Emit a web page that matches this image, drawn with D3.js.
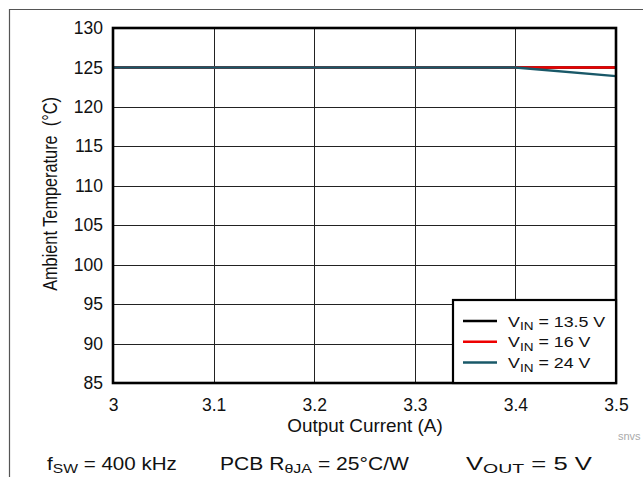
<!DOCTYPE html>
<html><head><meta charset="utf-8">
<script src="https://cdn.jsdelivr.net/npm/d3@7"></script>
<style>body{margin:0;background:#fff}svg{display:block;font-family:"Liberation Sans",Arial,sans-serif}</style>
</head><body>
<svg id="c" width="643" height="477"></svg>
<script>
const xTicks = [3, 3.1, 3.2, 3.3, 3.4, 3.5];
const yTicks = [85, 90, 95, 100, 105, 110, 115, 120, 125, 130];
const current = [3, 3.1, 3.2, 3.3, 3.4, 3.5];
const vin13_5 = [125, 125, 125, 125, 125, 125];
const vin16 = [125, 125, 125, 125, 125, 125];
const vin24 = [125, 125, 125, 125, 125, 123.9];
const seriesNames = ["13.5 V", "16 V", "24 V"];
const seriesColors = ["#000000", "#ee0000", "#195868"];

const svg = d3.select("#c");
const L = 113, R = 616, T = 28, B = 383;
const x = d3.scaleLinear().domain([3, 3.5]).range([L, R]);
const y = d3.scaleLinear().domain([85, 130]).range([B, T]);
const INK = "#111";

// outer frame
svg.append("line").attr("x1", 9).attr("x2", 643).attr("y1", 9.5).attr("y2", 9.5).attr("stroke", "#555").attr("stroke-width", 1.2);
svg.append("line").attr("x1", 9.5).attr("x2", 9.5).attr("y1", 9).attr("y2", 477).attr("stroke", "#555").attr("stroke-width", 1.2);

// grid
const g = svg.append("g");
g.selectAll(".vg").data(xTicks.slice(1, -1)).join("line")
  .attr("x1", d => Math.round(x(d)) + 0.5).attr("x2", d => Math.round(x(d)) + 0.5)
  .attr("y1", T).attr("y2", B).attr("stroke", "#222").attr("stroke-width", 1);
g.selectAll(".hg").data(yTicks.slice(1, -1)).join("line")
  .attr("y1", d => Math.round(y(d)) + 0.5).attr("y2", d => Math.round(y(d)) + 0.5)
  .attr("x1", L).attr("x2", R).attr("stroke", "#222").attr("stroke-width", 1);

// axes labels
const xa = svg.append("g").attr("transform", `translate(0,${B})`)
  .call(d3.axisBottom(x).tickValues(xTicks).tickFormat(d3.format("")).tickSize(0).tickPadding(15));
xa.select(".domain").remove();
xa.selectAll("text").attr("font-size", 17.5).attr("fill", INK).attr("font-family", "Liberation Sans, Arial, sans-serif")
  .attr("dy", "0.71em").attr("y", 15.5);
const ya = svg.append("g").attr("transform", `translate(${L},0)`)
  .call(d3.axisLeft(y).tickValues(yTicks).tickFormat(d3.format("")).tickSize(0).tickPadding(10));
ya.select(".domain").remove();
ya.selectAll("text").attr("font-size", 17.5).attr("fill", INK).attr("font-family", "Liberation Sans, Arial, sans-serif");

// lines
const line = d3.line().x((d, i) => x(current[i])).y(d => y(d));
[vin13_5, vin16, vin24].forEach((s, i) => {
  svg.append("path").datum(s).attr("d", line).attr("fill", "none")
    .attr("stroke", seriesColors[i]).attr("stroke-width", 2.5);
});

// plot frame
svg.append("rect").attr("x", L).attr("y", T).attr("width", R - L).attr("height", B - T)
  .attr("fill", "none").attr("stroke", "#000").attr("stroke-width", 2.6);

function buildSub(t, size, main, subs, rest, dyf) {
  t.append("tspan").text(main);
  t.append("tspan").attr("font-size", size * 0.76).attr("dy", size * dyf).text(subs);
  t.append("tspan").attr("dy", -size * dyf).text(rest);
}
function subText(parent, px, py, size, main, subs, rest, sx) {
  const gg = parent.append("g").attr("transform", `translate(${px},${py}) scale(${sx},1)`);
  const t = gg.append("text").attr("x", 0).attr("y", 0).attr("font-size", size).attr("fill", INK);
  buildSub(t, size, main, subs, rest, 0.24);
}
function fitText(parent, px, py, size, main, subs, rest, width) {
  const gg = parent.append("g");
  const t = gg.append("text").attr("x", 0).attr("y", 0).attr("font-size", size).attr("fill", INK);
  buildSub(t, size, main, subs, rest, 0.18);
  const w = t.node().getComputedTextLength();
  gg.attr("transform", `translate(${px},${py}) scale(${width / w},1)`);
}

// legend
const lg = svg.append("g");
lg.append("rect").attr("x", 453).attr("y", 300).attr("width", R - 453).attr("height", B - 300)
  .attr("fill", "#fff").attr("stroke", "#000").attr("stroke-width", 2.2);
seriesNames.forEach((n, i) => {
  const yy = 321 + i * 20.8;
  lg.append("line").attr("x1", 463).attr("x2", 497).attr("y1", yy).attr("y2", yy)
    .attr("stroke", seriesColors[i]).attr("stroke-width", 2.5);
  subText(lg, 508, yy + 5.5, 15.5, "V", "IN", " = " + n, 1.15);
});

// axis titles
svg.append("g").attr("transform", `translate(365,432) scale(1.08,1)`)
  .append("text").attr("text-anchor", "middle")
  .attr("font-size", 17.5).attr("fill", INK).text("Output Current (A)");
svg.append("text").attr("transform", `translate(57,194) rotate(-90) scale(1,1.2)`).attr("text-anchor", "middle")
  .attr("font-size", 16.3).attr("fill", INK).text("Ambient Temperature\u00A0\u00A0(°C)");

// watermark
svg.append("text").attr("x", 618).attr("y", 440).attr("font-size", 11).attr("fill", "#aaa").text("snvs");

// bottom annotation
const ann = svg.append("g");
fitText(ann, 47, 470, 18, "f", "SW", " = 400 kHz", 130);
fitText(ann, 220, 470, 18, "PCB R", "θJA", " = 25°C/W", 189);
fitText(ann, 466, 470, 18, "V", "OUT", " = 5 V", 126);
</script>
</body></html>
